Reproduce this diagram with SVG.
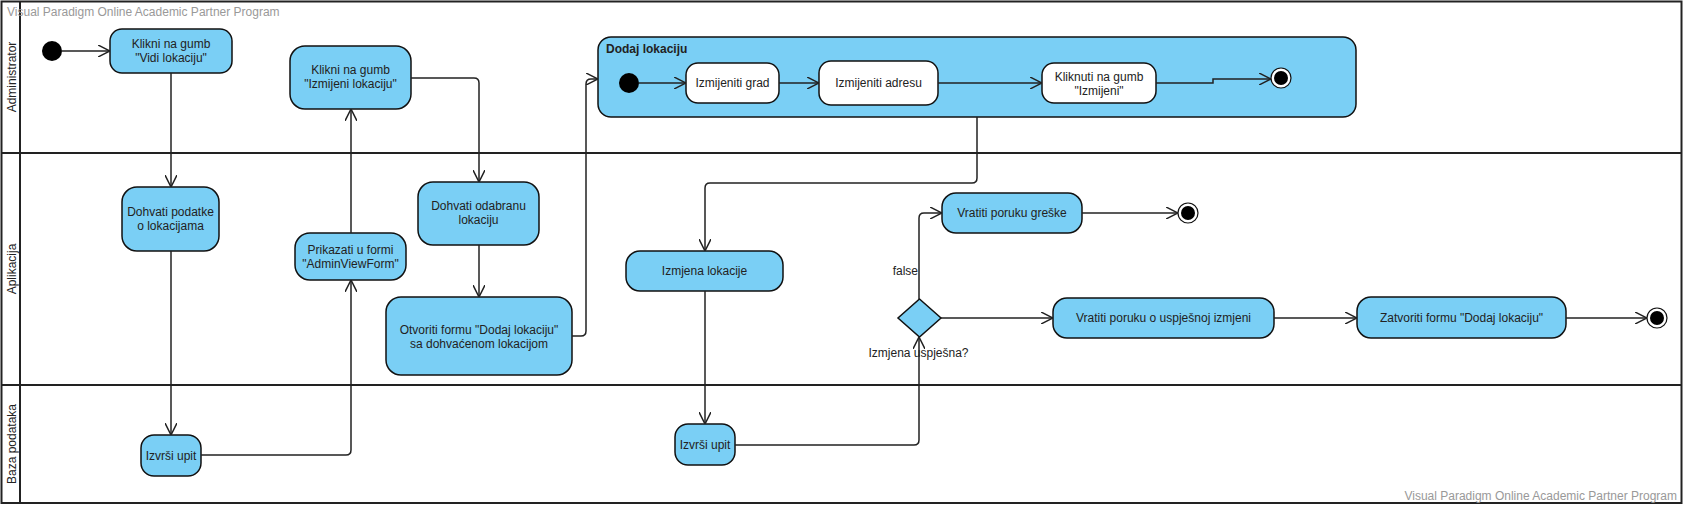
<svg xmlns="http://www.w3.org/2000/svg" width="1683" height="505" viewBox="0 0 1683 505">
<defs>
<marker id="arr" markerUnits="userSpaceOnUse" viewBox="0 0 12 12" markerWidth="12" markerHeight="12" refX="12" refY="6" orient="auto">
<path d="M0,0 L12,6 L0,12" fill="none" stroke="#222" stroke-width="1.5"/>
</marker>
</defs>
<style>
text{font-family:"Liberation Sans",Arial,sans-serif;font-size:12px;fill:#222}
.wm{fill:#999}
.lane{fill:none;stroke:#222;stroke-width:2}
.act{fill:#7acff5;stroke:#111;stroke-width:1.5}
.sub{fill:#ffffff;stroke:#111;stroke-width:1.5}
.c{text-anchor:middle}
.ini{fill:#000}
.fin{fill:#fff;stroke:#111;stroke-width:1.2}
.con path{fill:none;stroke:#222;stroke-width:1.5;marker-end:url(#arr)}
</style>
<rect width="1683" height="505" fill="#fff"/>
<g id="lanes">
<rect class="lane" x="1.5" y="1.5" width="1680" height="501.5"/>
<line class="lane" x1="20" y1="1.5" x2="20" y2="503"/>
<line class="lane" x1="1.5" y1="153" x2="1681.5" y2="153"/>
<line class="lane" x1="1.5" y1="385" x2="1681.5" y2="385"/>
<text class="c" transform="translate(16,77) rotate(-90)">Administrator</text>
<text class="c" transform="translate(16,269) rotate(-90)">Aplikacija</text>
<text class="c" transform="translate(16,444) rotate(-90)">Baza podataka</text>
</g>
<text class="wm" x="7" y="16">Visual Paradigm Online Academic Partner Program</text>
<text class="wm" x="1677" y="500" text-anchor="end">Visual Paradigm Online Academic Partner Program</text>

<g id="n-start"><circle class="ini" cx="52" cy="51" r="10"/></g>
<g id="n-vidi"><rect class="act" x="110" y="29" width="122" height="44" rx="12"/><text class="c" x="171" y="48">Klikni na gumb</text><text class="c" x="171" y="62">"Vidi lokaciju"</text></g>
<g id="n-izmijeni"><rect class="act" x="290" y="46" width="121" height="63" rx="15"/><text class="c" x="350.5" y="74">Klikni na gumb</text><text class="c" x="350.5" y="88">"Izmijeni lokaciju"</text></g>

<g id="n-dodaj">
<rect class="act" x="598" y="37" width="758" height="80" rx="13"/>
<text x="606" y="53" font-weight="bold">Dodaj lokaciju</text>
<circle class="ini" cx="629" cy="83" r="10"/>
<rect class="sub" x="686" y="63" width="93" height="40" rx="12"/><text class="c" x="732.5" y="87">Izmijeniti grad</text>
<rect class="sub" x="819" y="61" width="119" height="44" rx="12"/><text class="c" x="878.5" y="87">Izmijeniti adresu</text>
<rect class="sub" x="1042" y="63" width="114" height="40" rx="12"/><text class="c" x="1099" y="81">Kliknuti na gumb</text><text class="c" x="1099" y="95">"Izmijeni"</text>
<circle class="fin" cx="1281" cy="78" r="10"/><circle class="ini" cx="1281" cy="78" r="7"/>
</g>

<g id="n-dohvati"><rect class="act" x="122" y="187" width="97" height="64" rx="15"/><text class="c" x="170.5" y="216">Dohvati podatke</text><text class="c" x="170.5" y="230">o lokacijama</text></g>
<g id="n-prikazati"><rect class="act" x="295" y="233" width="111" height="47" rx="15"/><text class="c" x="350.5" y="254">Prikazati u formi</text><text class="c" x="350.5" y="268">"AdminViewForm"</text></g>
<g id="n-odabranu"><rect class="act" x="418" y="182" width="121" height="63" rx="15"/><text class="c" x="478.5" y="210">Dohvati odabranu</text><text class="c" x="478.5" y="224">lokaciju</text></g>
<g id="n-otvoriti"><rect class="act" x="386" y="297" width="186" height="78" rx="15"/><text class="c" x="479" y="334">Otvoriti formu "Dodaj lokaciju"</text><text class="c" x="479" y="348">sa dohvaćenom lokacijom</text></g>
<g id="n-izmjena"><rect class="act" x="626" y="251" width="157" height="40" rx="14"/><text class="c" x="704.5" y="275">Izmjena lokacije</text></g>
<g id="n-greske"><rect class="act" x="942" y="193" width="140" height="40" rx="14"/><text class="c" x="1012" y="217">Vratiti poruku greške</text></g>
<g id="n-fin1"><circle class="fin" cx="1188" cy="213" r="10"/><circle class="ini" cx="1188" cy="213" r="7"/></g>
<g id="n-decision"><path class="act" d="M919.5,299 L941,318 L919.5,337 L898,318 Z"/><text class="c" x="918.5" y="357">Izmjena uspješna?</text></g>
<g id="n-uspjesno"><rect class="act" x="1053" y="298" width="221" height="40" rx="14"/><text class="c" x="1163.5" y="322">Vratiti poruku o uspješnoj izmjeni</text></g>
<g id="n-zatvoriti"><rect class="act" x="1357" y="297" width="209" height="41" rx="14"/><text class="c" x="1461.5" y="322">Zatvoriti formu "Dodaj lokaciju"</text></g>
<g id="n-fin2"><circle class="fin" cx="1657" cy="318" r="10"/><circle class="ini" cx="1657" cy="318" r="7"/></g>
<g id="n-upit1"><rect class="act" x="141" y="435" width="60" height="41" rx="13"/><text class="c" x="171" y="460">Izvrši upit</text></g>
<g id="n-upit2"><rect class="act" x="675" y="424" width="60" height="41" rx="13"/><text class="c" x="705" y="449">Izvrši upit</text></g>

<g id="connectors" class="con">
<path d="M62,51 H110"/>
<path d="M171,73 V187"/>
<path d="M171,251 V435"/>
<path d="M201,455 H346 Q351,455 351,450 V280"/>
<path d="M351,233 V109"/>
<path d="M411,78 H474 Q479,78 479,83 V182"/>
<path d="M479,245 V297"/>
<path d="M572,336 H581 Q586,336 586,331 V84 Q586,79 591,79 H598"/>
<path d="M977,117 V178 Q977,183 972,183 H710 Q705,183 705,188 V251"/>
<path d="M705,291 V424"/>
<path d="M735,445 H914 Q919,445 919,440 V337"/>
<path d="M919,299 V218 Q919,213 924,213 H942"/>
<path d="M941,318 H1053"/>
<path d="M1274,318 H1357"/>
<path d="M1566,318 H1647"/>
<path d="M1082,213 H1178"/>
<path d="M639,83 H686"/>
<path d="M779,83 H819"/>
<path d="M938,83 H1042"/>
<path d="M1156,83 H1213 V79 H1271"/>
<text x="918" y="275" text-anchor="end">false</text>
</g>
</svg>
